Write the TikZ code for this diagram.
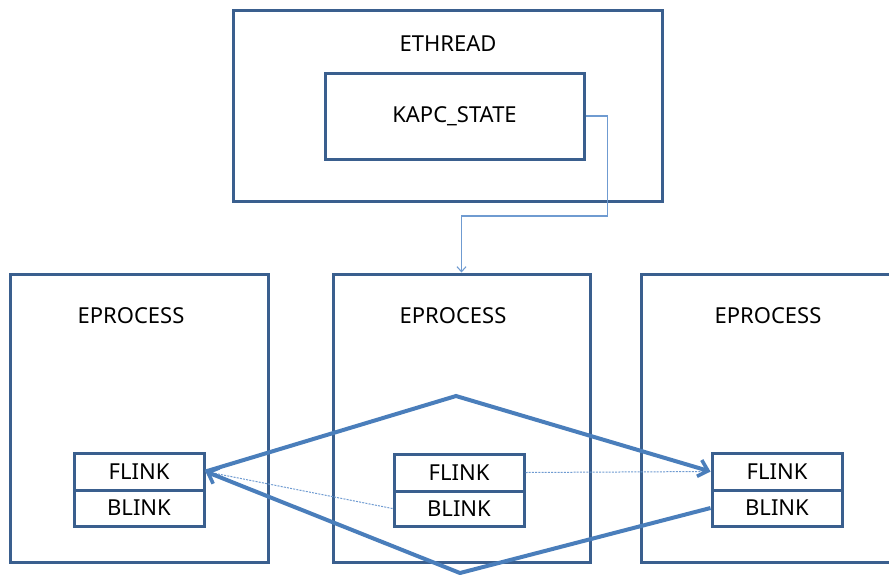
\documentclass[tikz,border=0pt]{standalone}
\usepackage{fontspec}
\setmainfont{Noto Sans}
\usetikzlibrary{arrows.meta}
\definecolor{boxblue}{HTML}{3A5F8E}
\definecolor{linkblue}{HTML}{4A7EBB}
\definecolor{thinblue}{HTML}{6F9BD1}
\begin{document}
\begin{tikzpicture}[x=1pt,y=-1pt,
  frame/.style={draw=boxblue,line width=3pt,inner sep=0pt,fill=white},
  cell/.style={frame,minimum width=130pt},
  title/.style={inner sep=0pt,font=\fontsize{22}{26}\selectfont},
  link/.style={draw=linkblue,line width=4pt,line join=miter,
    -{Straight Barb[length=9pt,width=17pt,line width=3.6pt]}},
  oldlink/.style={draw=thinblue,line width=1pt,dash pattern=on 2pt off 1.2pt},
  ptr/.style={draw=thinblue,line width=1.1pt,
    -{Straight Barb[length=5pt,width=9pt,line width=1.1pt]}}]
\useasboundingbox (0,0) rectangle (889,574);
\clip (0,0) rectangle (889,574);

% thread object with its APC state
\node[frame,minimum width=429pt,minimum height=191pt] (eth) at (447.5,105.5) {};
\node[title] (ethlbl) at (448,44) {ETHREAD};
\node[frame,minimum width=259pt,minimum height=86pt,title] (kapc) at (454.5,116) {KAPC\_STATE};

% process objects
\node[frame,minimum width=258pt,minimum height=288pt] (ep1) at (139,418) {};
\node[frame,minimum width=257pt,minimum height=288pt] (ep2) at (461.5,418) {};
\node[frame,minimum width=270pt,minimum height=288pt] (ep3) at (776,418) {};
\node[title] (ep1lbl) at (131,316) {EPROCESS};
\node[title] (ep2lbl) at (453,316) {EPROCESS};
\node[title] (ep3lbl) at (768,316) {EPROCESS};

% list entries
\node[cell,minimum height=37pt,title] (lf) at (139,471.5) {FLINK};
\node[cell,minimum height=36pt,title] (lb) at (139,508) {BLINK};
\node[cell,minimum height=37pt,title] (mf) at (459,472.5) {FLINK};
\node[cell,minimum height=35pt,title] (mb) at (459,508.5) {BLINK};
\node[cell,minimum height=37pt,title] (rf) at (777,471.5) {FLINK};
\node[cell,minimum height=36pt,title] (rb) at (777,508) {BLINK};

% ApcState.Process pointer
\draw[ptr] (kapc.east) -- ++(22,0) -- ++(0,100) -| (ep2.north);

% former links of the middle process
\draw[oldlink] (mf.east) -- (rf.west);
\draw[oldlink] (mb.west) -- (lf.east);

% links after unlinking
\coordinate (peak) at (456,396);
\coordinate (valley) at (460,573);
\draw[link] (lf.east) -- (peak) -- (rf.west);
\draw[link] (rb.west) -- (valley) -- (lf.east);
\end{tikzpicture}
\end{document}
